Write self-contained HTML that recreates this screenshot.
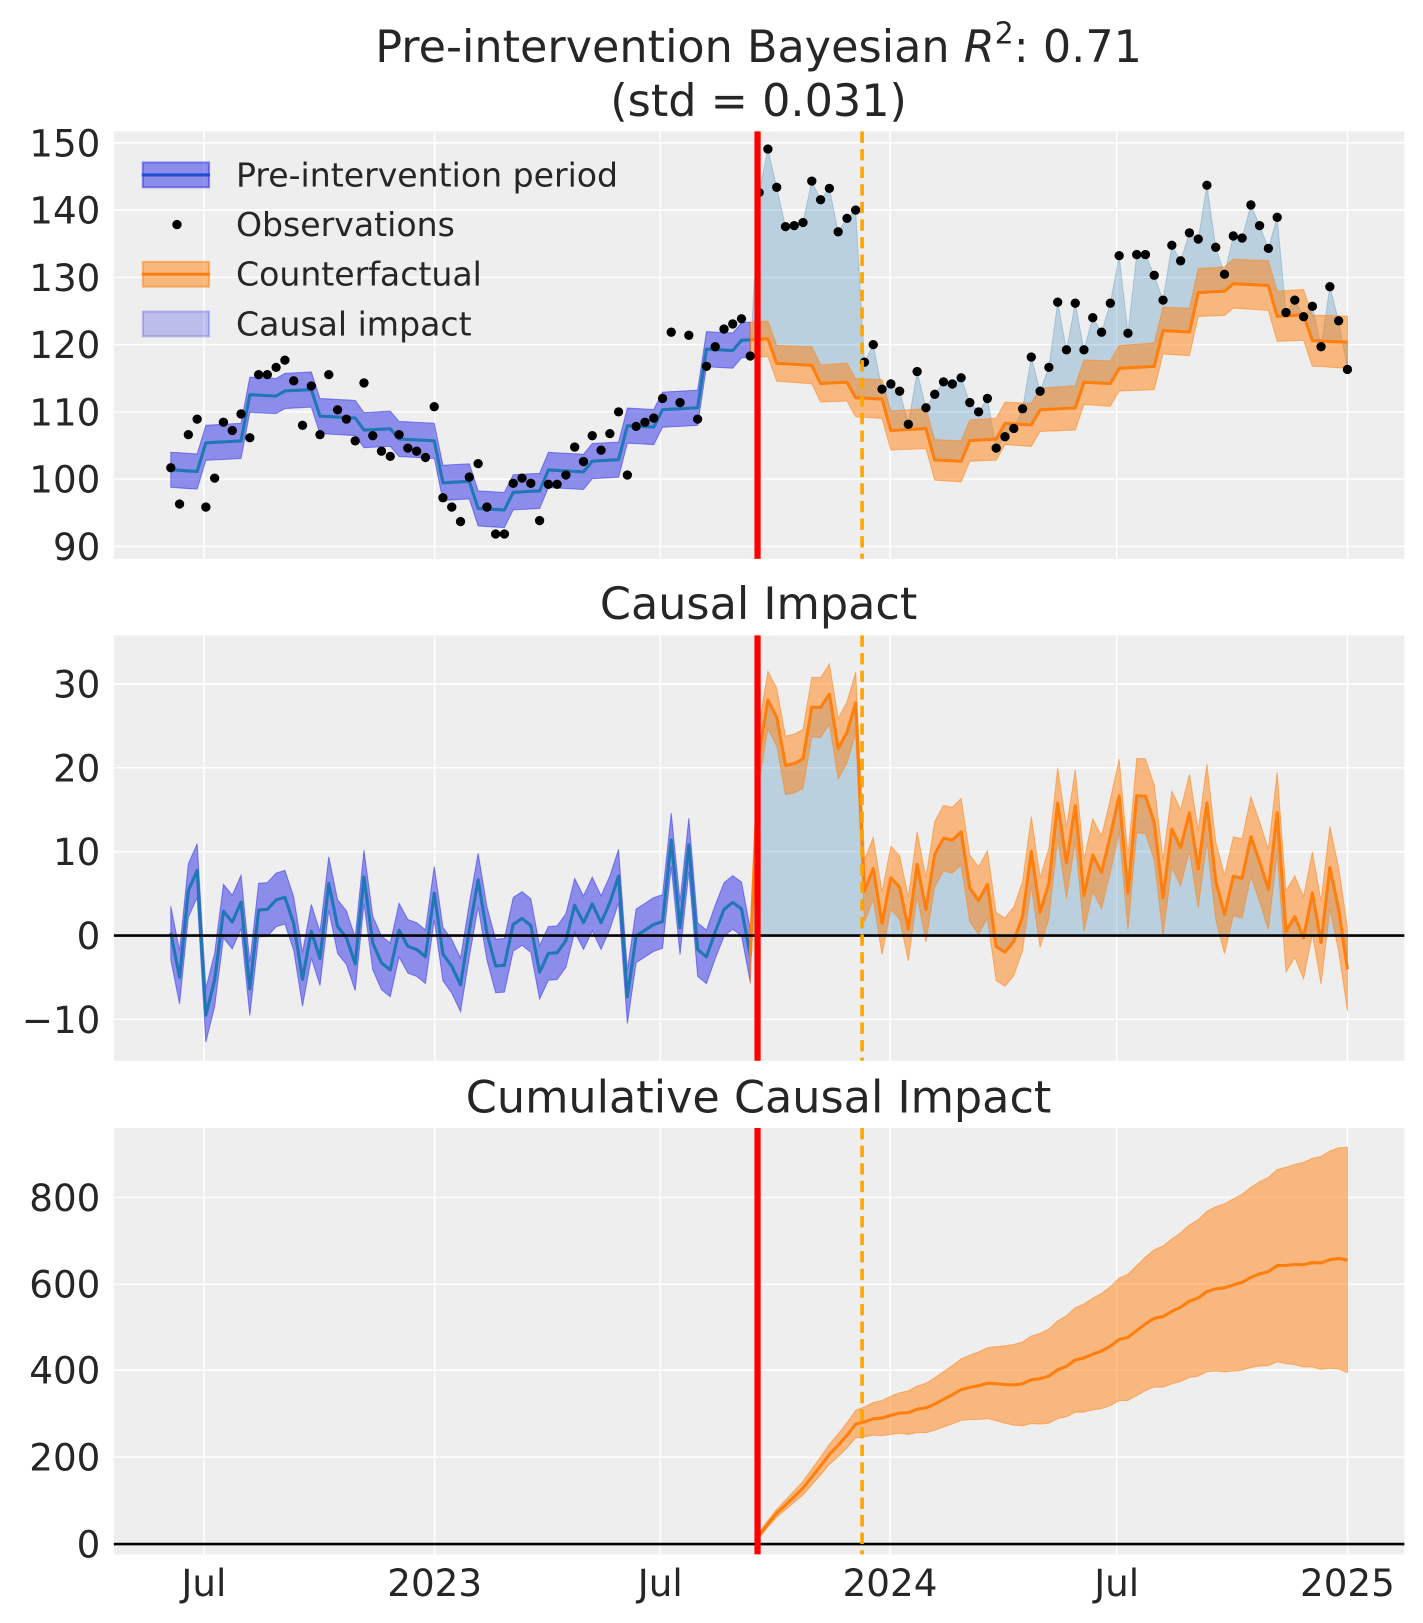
<!DOCTYPE html>
<html><head><meta charset="utf-8"><style>
html,body{margin:0;padding:0;background:#fff}
svg{display:block}
text{font-family:"DejaVu Sans","Liberation Sans",sans-serif;fill:#262626}
</style></head><body>
<svg id="s" width="1423" height="1623" viewBox="0 0 1375 1568.3" preserveAspectRatio="none" xmlns="http://www.w3.org/2000/svg"></svg>
<script>
const S=document.getElementById('s');let h='';
const X0=110,X1=1357;
const P=[{t:127,b:540},{t:614,b:1025},{t:1090,b:1502}];
const xt=[[197,'Jul'],[420,'2023'],[638,'Jul'],[860,'2024'],[1079,'Jul'],[1302,'2025']];
const yt=[[[150,138],[140,203],[130,268],[120,333],[110,398],[100,463],[90,528]],
[[30,661],[20,742],[10,823],[0,904],[-10,985]],
[[800,1157],[600,1241],[400,1324],[200,1408],[0,1492]]];
P.forEach((p,i)=>{
h+=`<rect x="${X0}" y="${p.t}" width="${X1-X0}" height="${p.b-p.t}" fill="#eeeeee"/>`;
xt.forEach(v=>h+=`<line x1="${v[0]}" x2="${v[0]}" y1="${p.t}" y2="${p.b}" stroke="#fff" stroke-width="1.5"/>`);
yt[i].forEach(v=>{h+=`<line x1="${X0}" x2="${X1}" y1="${v[1]}" y2="${v[1]}" stroke="#fff" stroke-width="1.5"/>`;
h+=`<text x="${X0-13}" y="${v[1]+13}" font-size="36" text-anchor="end">${v[0]<0?'\u2212'+(-v[0]):v[0]}</text>`;});
});
xt.forEach(v=>h+=`<text x="${v[0]}" y="1542" font-size="36" text-anchor="middle">${v[1]}</text>`);
const obs=[452,487,420,405,490,462,408,416,400,423,362,362,355,348,368,411,373,420,362,396,405,426,370,421,436,441,420,433,436,442,393,481,490,504,461,448,490,516,516,467,462,467,503,468,468,459,432,446,421,435,419,398,459,412,408,404,385,321,389,324,405,354,335,318,313,308,344,
186,144,181,219,218,215,175,193,182,224,211,203,350,333,376,371,378,410,359,394,381,369,371,365,389,398,385,433,422,414,395,345,378,355,292,338,293,338,307,321,293,247,322,246,246,266,290,237,252,225,231,179,239,265,228,230,198,218,240,210,302,290,306,296,335,277,310,357];
const N=obs.length,step=(1302-165)/(N-1);
const xs=obs.map((_,i)=>165+i*step);
const mb=[165,197,234,272,308,345,382,420,457,491,528,564,601,638,675,712,749,785,822,860,897,932,969,1005,1042,1079,1116,1153,1190,1227,1264,1310];
const mv=[455,427,382,377,403,415,425,466,492,475,455,445,412,395,338,328,352,370,385,415,445,425,410,395,370,355,320,282,275,305,330];
function mean(x){for(let k=0;k<mv.length;k++)if(x<mb[k+1])return mv[k]+(k%2?-2:2)*((x-mb[k])/(mb[k+1]-mb[k])-0.5);return mv[mv.length-1];}
const mu=xs.map(mean);
const pre=xs.filter(x=>x<728).length;
const pts=a=>a.map(p=>p[0].toFixed(1)+','+p[1].toFixed(1)).join(' ');
function band(x,lo,hi,fill,op){let a=x.map((v,i)=>[v,hi[i]]),b=x.map((v,i)=>[v,lo[i]]).reverse();return `<polygon points="${pts(a.concat(b))}" fill="${fill}" fill-opacity="${op}" stroke="${fill}" stroke-opacity="${op}"/>`;}
function line(x,y,c,w){return `<polyline points="${pts(x.map((v,i)=>[v,y[i]]))}" fill="none" stroke="${c}" stroke-width="${w}" stroke-linejoin="round"/>`;}
const xpre=xs.slice(0,pre),xpo=xs.slice(pre-1);
const mpre=mu.slice(0,pre),mpo=mu.slice(pre-1);
const wpo=xpo.map((x,i)=>17+i*0.12);
h+=band(xpo,mpo,obs.slice(pre-1),'#1f77b4',0.25);
h+=band(xpre,mpre.map(v=>v+17),mpre.map(v=>v-17),'#2a2ae8',0.5);
h+=band(xpo,mpo.map((v,i)=>v+wpo[i]),mpo.map((v,i)=>v-wpo[i]),'#ff7f0e',0.5);
h+=line(xpre,mpre,'#1f77b4',3);h+=line(xpo,mpo,'#ff7f0e',3);
obs.forEach((o,i)=>h+=`<circle cx="${xs[i].toFixed(1)}" cy="${o}" r="4.5" fill="#000"/>`);
const imp=obs.map((o,i)=>(mu[i]-o)/6.53);
const y2=v=>904-v*8.1;
const ipre=imp.slice(0,pre),ipo=imp.slice(pre-1);
h+=band(xpo,ipo.map(y2),ipo.map(()=>904),'#1f77b4',0.25);
h+=band(xpre,ipre.map(v=>y2(v+3.2)),ipre.map(v=>y2(v-3.2)),'#2a2ae8',0.5);
h+=band(xpo,ipo.map((v,i)=>y2(v+wpo[i]/6.53*1.3)),ipo.map((v,i)=>y2(v-wpo[i]/6.53*1.3)),'#ff7f0e',0.5);
h+=line(xpre,ipre.map(y2),'#1f77b4',3);h+=line(xpo,ipo.map(y2),'#ff7f0e',3);
h+=`<line x1="${X0}" x2="${X1}" y1="904" y2="904" stroke="#000" stroke-width="2.5"/>`;
let c=0;const cum=[];for(let i=pre;i<N;i++){c+=imp[i];cum.push(c);}
const sc=655/cum[cum.length-1];const cs=cum.map(v=>v*sc);
const xc=xs.slice(pre),T=xc.length;
const y3=v=>1492-v*0.419;
const cw=cs.map((v,i)=>5+255*Math.pow((i+1)/T,1.3));
h+=band(xc,cs.map((v,i)=>y3(v+cw[i])),cs.map((v,i)=>y3(v-cw[i])),'#ff7f0e',0.5);
h+=line(xc,cs.map(y3),'#ff7f0e',3);
h+=`<line x1="${X0}" x2="${X1}" y1="1492" y2="1492" stroke="#000" stroke-width="2.5"/>`;
P.forEach(p=>{h+=`<line x1="732" x2="732" y1="${p.t}" y2="${p.b}" stroke="#ff0000" stroke-width="6"/>`;
h+=`<line x1="833" x2="833" y1="${p.t}" y2="${p.b}" stroke="#ffa500" stroke-width="3.5" stroke-dasharray="11,6"/>`;});
h+=`<text x="733" y="60" font-size="43" text-anchor="middle">Pre-intervention Bayesian <tspan font-style="italic">R</tspan><tspan font-size="29" dy="-18">2</tspan><tspan dy="18">: 0.71</tspan></text>`;
h+=`<text x="733" y="112" font-size="43" text-anchor="middle">(std = 0.031)</text>`;
h+=`<text x="733" y="598" font-size="43" text-anchor="middle">Causal Impact</text>`;
h+=`<text x="733" y="1075" font-size="43" text-anchor="middle">Cumulative Causal Impact</text>`;
h+=`<rect x="138" y="157" width="64" height="24" fill="#2a2ae8" fill-opacity="0.5" stroke="#2a2ae8" stroke-opacity="0.5" stroke-width="2"/><line x1="137" x2="203" y1="169" y2="169" stroke="#2050d0" stroke-width="3"/>`;
h+=`<circle cx="171" cy="217" r="4.5" fill="#000"/>`;
h+=`<rect x="138" y="253" width="64" height="24" fill="#ff7f0e" fill-opacity="0.5" stroke="#ff7f0e" stroke-opacity="0.5" stroke-width="2"/><line x1="137" x2="203" y1="265" y2="265" stroke="#ff7f0e" stroke-width="3"/>`;
h+=`<rect x="138" y="301" width="64" height="24" fill="#2a2ae8" fill-opacity="0.25" stroke="#2a2ae8" stroke-opacity="0.25" stroke-width="2"/>`;
[['Pre-intervention period',169],['Observations',217],['Counterfactual',265],['Causal impact',313]].forEach(l=>h+=`<text x="228" y="${l[1]+11}" font-size="32">${l[0]}</text>`);
S.innerHTML=h;
</script>
</body></html>
